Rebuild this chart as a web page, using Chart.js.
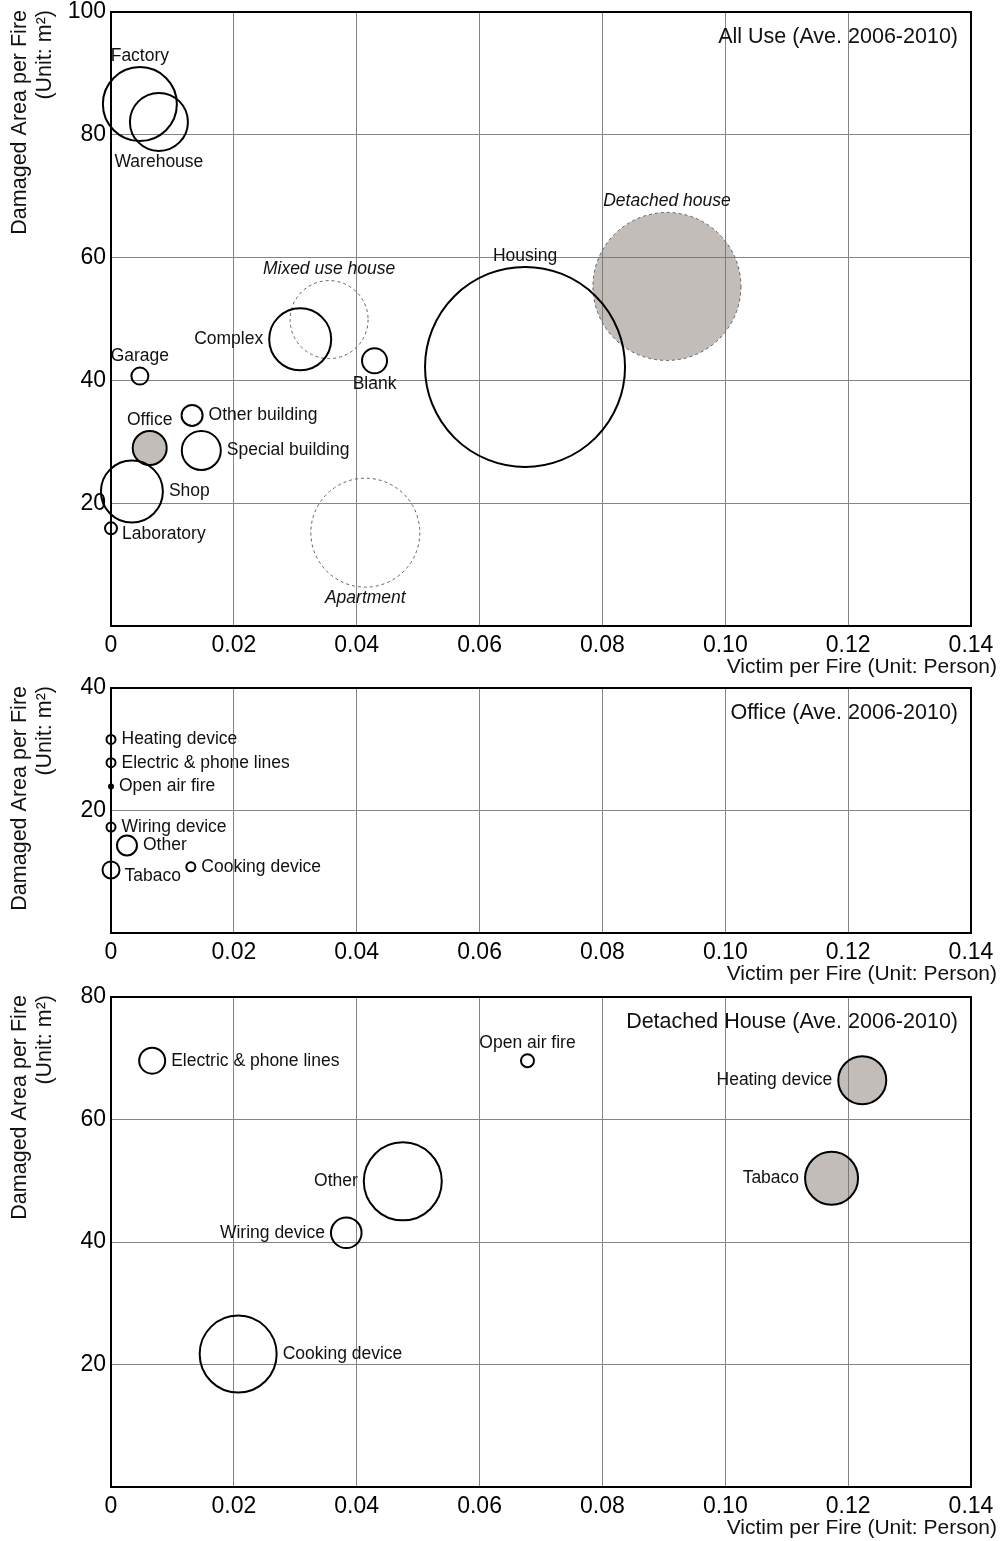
<!DOCTYPE html>
<html>
<head>
<meta charset="utf-8">
<script src="https://cdn.jsdelivr.net/npm/chart.js@4.4.0/dist/chart.umd.min.js"></script>
<style>
  html, body { margin: 0; padding: 0; background: #fff; }
  #wrap { position: relative; width: 1002px; height: 1541px; overflow: hidden; }
  canvas { position: absolute; left: 0; }
</style>
</head>
<body>
<div id="wrap">
  <canvas id="allUse" width="1002" height="690" style="top:0px"></canvas>
  <canvas id="office" width="1002" height="340" style="top:660px"></canvas>
  <canvas id="detached" width="1002" height="571" style="top:970px"></canvas>
</div>
<script>
// ---------- shared axes ----------
const xTickValues = [0, 0.02, 0.04, 0.06, 0.08, 0.10, 0.12, 0.14];
const xTickLabels = ['0', '0.02', '0.04', '0.06', '0.08', '0.10', '0.12', '0.14'];
const xTitle = 'Victim per Fire (Unit: Person)';
const yTitle = ['Damaged Area per Fire', '(Unit: m\u00B2)'];

// ---------- All Use (Ave. 2006-2010) ----------
const allUseNames = ['Factory', 'Warehouse', 'Garage', 'Office', 'Shop', 'Laboratory',
  'Other building', 'Special building', 'Complex', 'Blank', 'Housing',
  'Mixed use house', 'Apartment', 'Detached house'];
const allUseVictims = [0.0047, 0.0078, 0.0047, 0.0063, 0.0034, 0.0000,
  0.0132, 0.0147, 0.0308, 0.0429, 0.0674,
  0.0355, 0.0414, 0.0905];
const allUseArea = [85.0, 82.1, 40.7, 29.0, 21.9, 15.9,
  34.3, 28.6, 46.7, 43.2, 42.2,
  49.9, 15.2, 55.3];
const allUseBubble = [37, 29, 8.5, 17, 31, 6,
  10.5, 19.5, 31, 12.5, 100,
  39, 54.5, 74];
const allUseShaded = [false, false, false, true, false, false,
  false, false, false, false, false,
  false, false, true];
// housing sub-types are outlined with a dashed line and labelled in italics
const allUseSubtype = [false, false, false, false, false, false,
  false, false, false, false, false,
  true, true, true];
const allUseYTicks = [0, 20, 40, 60, 80, 100];
const allUseYLabels = ['', '20', '40', '60', '80', '100'];

// ---------- Office (Ave. 2006-2010) ----------
const officeNames = ['Heating device', 'Electric & phone lines', 'Open air fire',
  'Wiring device', 'Other', 'Tabaco', 'Cooking device'];
const officeVictims = [0.0000, 0.0000, 0.0000, 0.0000, 0.0026, 0.0000, 0.0130];
const officeArea = [31.6, 27.8, 23.9, 17.3, 14.3, 10.3, 10.8];
const officeBubble = [4.5, 4.5, 2, 4.5, 10, 8.5, 4.5];
const officeShaded = [false, false, false, false, false, false, false];
const officeYTicks = [0, 20, 40];
const officeYLabels = ['', '20', '40'];

// ---------- Detached House (Ave. 2006-2010) ----------
const detachedNames = ['Electric & phone lines', 'Open air fire', 'Heating device',
  'Other', 'Tabaco', 'Wiring device', 'Cooking device'];
const detachedVictims = [0.0067, 0.0678, 0.1223, 0.0475, 0.1173, 0.0383, 0.0207];
const detachedArea = [69.6, 69.6, 66.4, 49.9, 50.4, 41.5, 21.7];
const detachedBubble = [13, 6.5, 24, 39, 26.5, 15.3, 38.5];
const detachedShaded = [false, false, true, false, true, false, false];
const detachedYTicks = [0, 20, 40, 60, 80];
const detachedYLabels = ['', '20', '40', '60', '80'];

// ---------- label placement around each bubble ----------
// t = above, b = below, l = left, r = right, rb = right and slightly lower
const allUseSides = ['t', 'b', 't', 't', 'r', 'rb', 'r', 'r', 'l', 'b', 't', 't', 'b', 't'];
const officeSides = ['r', 'r', 'r', 'r', 'r', 'rb', 'r'];
const detachedSides = ['r', 't', 'l', 'l', 'l', 'l', 'r'];

// ---------- drawing ----------
const FONT = '"Liberation Sans", Arial, Helvetica, sans-serif';
const SHADE = 'rgba(120,108,98,0.45)';
const GRID = '#858585';

const decor = {
  id: 'decor',
  beforeDatasetsDraw(chart) {
    const { ctx, chartArea: a } = chart;
    ctx.save();
    ctx.strokeStyle = '#000';
    ctx.lineWidth = 2;
    ctx.strokeRect(a.left, a.top, a.right - a.left, a.bottom - a.top);
    ctx.restore();
  },
  beforeDatasetDraw(chart, args) {
    if (chart.data.datasets[args.index].dashed) chart.ctx.setLineDash([3, 3]);
  },
  afterDatasetDraw(chart) {
    chart.ctx.setLineDash([]);
  },
  afterDatasetsDraw(chart, args, opts) {
    const { ctx, chartArea: a } = chart;
    ctx.save();
    ctx.fillStyle = '#111';
    // bubble labels
    chart.data.datasets.forEach((ds, di) => {
      const meta = chart.getDatasetMeta(di);
      ctx.font = (ds.italic ? 'italic ' : '') + '17.5px ' + FONT;
      meta.data.forEach((el, j) => {
        const r = ds.data[j].r;
        const side = ds.sides[j];
        let x = el.x, y = el.y;
        ctx.textBaseline = 'middle';
        if (side === 't') { ctx.textAlign = 'center'; y = el.y - r - 11; }
        else if (side === 'b') { ctx.textAlign = 'center'; y = el.y + r + 11; }
        else if (side === 'l') { ctx.textAlign = 'right'; x = el.x - r - 6; }
        else if (side === 'rb') { ctx.textAlign = 'left'; x = el.x + r + 5; y = el.y + 6; }
        else { ctx.textAlign = 'left'; x = el.x + r + 6; }
        ctx.fillText(ds.names[j], x, y);
      });
    });
    // panel title
    ctx.font = '21.5px ' + FONT;
    ctx.textAlign = 'right';
    ctx.textBaseline = 'middle';
    ctx.fillText(opts.title, a.right - 13, a.top + 25);
    // x axis title
    ctx.font = '21px ' + FONT;
    ctx.fillText(xTitle, a.right + 26, a.bottom + 41);
    // y axis title, rotated, top aligned
    ctx.font = '21.5px ' + FONT;
    ctx.translate(20, a.top - 2);
    ctx.rotate(-Math.PI / 2);
    ctx.textAlign = 'right';
    ctx.fillText(yTitle[0], 0, 0);
    ctx.fillText(yTitle[1], 0, 25);
    ctx.restore();
  }
};

function bubbleChart(id, d) {
  const solidIdx = [], dashedIdx = [];
  d.names.forEach((n, i) => ((d.subtype && d.subtype[i]) ? dashedIdx : solidIdx).push(i));
  const makeSet = (idx, dashed) => ({
    data: idx.map(i => ({ x: d.victims[i], y: d.area[i], r: d.bubble[i] })),
    names: idx.map(i => d.names[i]),
    sides: idx.map(i => d.sides[i]),
    italic: dashed,
    dashed: dashed,
    clip: false,
    backgroundColor: idx.map(i => d.shaded[i] ? SHADE : 'rgba(0,0,0,0)'),
    borderColor: dashed ? '#606060' : '#000',
    borderWidth: dashed ? 1 : 2,
    hoverBorderWidth: dashed ? 1 : 2,
    hoverRadius: 0
  });
  const datasets = [makeSet(solidIdx, false)];
  if (dashedIdx.length) datasets.push(makeSet(dashedIdx, true));

  const zeroPad = s => { s.paddingTop = 0; s.paddingBottom = 0; s.paddingLeft = 0; s.paddingRight = 0; };

  return new Chart(document.getElementById(id), {
    type: 'bubble',
    data: { datasets },
    plugins: [decor],
    options: {
      responsive: false,
      devicePixelRatio: 1,
      animation: false,
      events: [],
      layout: { autoPadding: false, padding: { top: d.padTop, right: 31, left: 0, bottom: 0 } },
      plugins: {
        legend: { display: false },
        tooltip: { enabled: false },
        decor: { title: d.title }
      },
      scales: {
        x: {
          type: 'linear',
          min: 0, max: 0.14,
          afterBuildTicks: s => { s.ticks = xTickValues.map(v => ({ value: v })); },
          afterFit: s => { s.height = d.axisHeight; zeroPad(s); },
          grid: { color: GRID, lineWidth: 1, drawTicks: false },
          border: { display: false },
          ticks: {
            padding: 6,
            color: '#000',
            font: { family: FONT, size: 23 },
            maxRotation: 0,
            autoSkip: false,
            callback: (v, i) => xTickLabels[i]
          }
        },
        y: {
          type: 'linear',
          min: 0, max: d.yTicks[d.yTicks.length - 1],
          afterBuildTicks: s => { s.ticks = d.yTicks.map(v => ({ value: v })); },
          afterFit: s => { s.width = 111; zeroPad(s); },
          grid: { color: GRID, lineWidth: 1, drawTicks: false },
          border: { display: false },
          ticks: {
            padding: 5,
            color: '#000',
            font: { family: FONT, size: 23 },
            autoSkip: false,
            callback: (v, i) => d.yLabels[i]
          }
        }
      }
    }
  });
}

bubbleChart('allUse', {
  names: allUseNames, victims: allUseVictims, area: allUseArea, bubble: allUseBubble,
  shaded: allUseShaded, subtype: allUseSubtype, sides: allUseSides,
  yTicks: allUseYTicks, yLabels: allUseYLabels,
  title: 'All Use (Ave. 2006-2010)', padTop: 12, axisHeight: 64
});
bubbleChart('office', {
  names: officeNames, victims: officeVictims, area: officeArea, bubble: officeBubble,
  shaded: officeShaded, sides: officeSides,
  yTicks: officeYTicks, yLabels: officeYLabels,
  title: 'Office (Ave. 2006-2010)', padTop: 28, axisHeight: 67
});
bubbleChart('detached', {
  names: detachedNames, victims: detachedVictims, area: detachedArea, bubble: detachedBubble,
  shaded: detachedShaded, sides: detachedSides,
  yTicks: detachedYTicks, yLabels: detachedYLabels,
  title: 'Detached House (Ave. 2006-2010)', padTop: 27, axisHeight: 54
});
</script>
</body>
</html>
